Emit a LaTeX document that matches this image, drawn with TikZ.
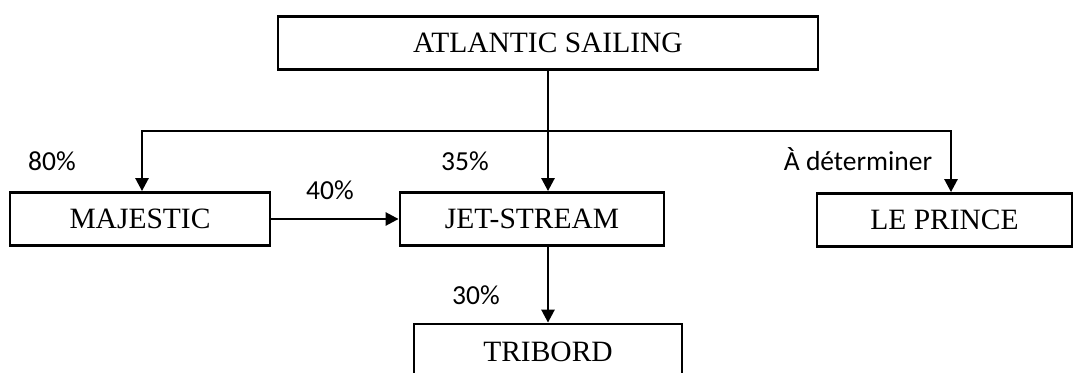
\documentclass[tikz,border=0pt]{standalone}
\usepackage{fontspec}
\newfontfamily\boxfont{Liberation Serif}
\newfontfamily\pctfont{Carlito}
\usetikzlibrary{arrows.meta,calc}

\begin{document}
\begin{tikzpicture}[x=1pt,y=-1pt,
  box/.style={draw,line width=2.8pt,inner sep=0pt,minimum height=53pt,
    font=\boxfont\fontsize{29.5}{31}\selectfont},
  pct/.style={inner sep=0pt,font=\pctfont\fontsize{27.5}{29}\selectfont},
  link/.style={line width=2.6pt},
  arr/.style={link,-{Triangle[width=13pt,length=13pt]}}]
\clip (0,0) rectangle (1075,372);
% boxes
\node[box,minimum width=540pt] (sail) at (548,43) {ATLANTIC SAILING};
\node[box,minimum width=260pt] (maj) at (140,219) {MAJESTIC};
\node[box,minimum width=264pt] (jet) at (532,219) {JET-STREAM};
\node[box,minimum width=255pt] (prince) at (944.5,220) {LE PRINCE};
\node[box,minimum width=268pt,minimum height=56pt] (tri) at (548,352) {TRIBORD};
% bus line
\coordinate (bus) at (548,131);
\coordinate (busL) at (142,131);
\coordinate (busR) at (951,131);
\draw[link] (sail.south) -- (bus);
\draw[arr] (bus) -| (busL |- maj.north);
\draw[arr] (bus) -| (busR |- prince.north);
\draw[arr] (bus) -- (bus |- jet.north);
\draw[arr] (maj.east) -- (jet.west);
\draw[arr] (tri.north |- jet.south) -- (tri.north);
% shares
\node[pct] (p80) at (52,161) {80\%};
\node[pct] (p35) at (465,161) {35\%};
\node[pct] (p40) at (330,190) {40\%};
\node[pct] (pdet) at (858,159) {À déterminer};
\node[pct] (p30) at (476,295) {30\%};
\end{tikzpicture}
\end{document}
